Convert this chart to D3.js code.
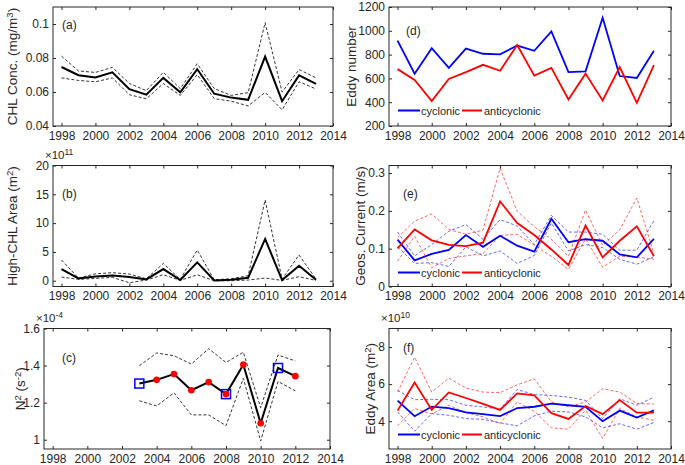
<!DOCTYPE html>
<html>
<head>
<meta charset="utf-8">
<script src="https://cdn.jsdelivr.net/npm/d3@7"></script>
<style>
  body { margin: 0; background: #fff; }
  svg text { font-family: "Liberation Sans", Arial, sans-serif; fill: #262626; }
</style>
</head>
<body>
<script>
var years = [1998, 1999, 2000, 2001, 2002, 2003, 2004, 2005, 2006, 2007, 2008, 2009, 2010, 2011, 2012, 2013];
var xTicks = [1998, 2000, 2002, 2004, 2006, 2008, 2010, 2012, 2014];

// (a) CHL concentration
var chlMean  = [0.0747, 0.0699, 0.0686, 0.0716, 0.0617, 0.0584, 0.0683, 0.0598, 0.0734, 0.0590, 0.0567, 0.0554, 0.0808, 0.0546, 0.0698, 0.0648];
var chlUpper = [0.0811, 0.0724, 0.0715, 0.0745, 0.0650, 0.0608, 0.0716, 0.0620, 0.0766, 0.0620, 0.0580, 0.0596, 0.1008, 0.0600, 0.0732, 0.0683];
var chlLower = [0.0683, 0.0668, 0.0660, 0.0683, 0.0584, 0.0560, 0.0650, 0.0580, 0.0702, 0.0561, 0.0546, 0.0518, 0.0598, 0.0495, 0.0660, 0.0618];

// (b) high-CHL area, x1e11
var hiMean  = [2.03, 0.40, 0.75, 0.93, 0.64, 0.23, 2.03, 0.12, 3.19, 0.06, 0.17, 0.52, 7.25, 0.12, 2.60, 0.17];
var hiUpper = [3.60, 0.46, 1.20, 1.40, 1.16, 0.35, 3.00, 0.23, 5.33, 0.17, 0.35, 0.87, 14.0, 0.29, 4.46, 0.29];
var hiLower = [0.64, 0.23, 0.40, 0.58, -0.35, 0.12, 1.04, 0.06, 1.04, 0.00, 0.00, 0.12, 0.46, 0.06, 0.70, 0.06];

// (c) N2, x1e-4
var n2Years = [2003, 2004, 2005, 2006, 2007, 2008, 2009, 2010, 2011, 2012];
var n2Mean  = [1.303, 1.323, 1.354, 1.267, 1.311, 1.246, 1.405, 1.089, 1.387, 1.343];
var n2Upper = [1.399, 1.468, 1.453, 1.408, 1.491, 1.417, 1.472, 1.173, 1.457, 1.425];
var n2Lower = [1.210, 1.182, 1.253, 1.134, 1.134, 1.076, 1.331, 0.993, 1.314, 1.264];
var n2DotYears = [2004, 2005, 2006, 2007, 2008, 2009, 2010, 2012];
var n2SquareYears = [2003, 2008, 2011];

// (d) eddy number
var numCyc  = [917, 640, 854, 689, 851, 807, 802, 876, 832, 994, 653, 659, 1109, 620, 604, 832];
var numAnti = [678, 587, 409, 596, 653, 714, 664, 881, 623, 689, 423, 640, 414, 695, 395, 711];

// (e) geostrophic current
var curCyc    = [0.124, 0.069, 0.086, 0.097, 0.136, 0.105, 0.134, 0.108, 0.092, 0.179, 0.117, 0.125, 0.121, 0.085, 0.077, 0.126];
var curCycUp  = [0.144, 0.081, 0.111, 0.146, 0.164, 0.125, 0.177, 0.160, 0.111, 0.188, 0.144, 0.144, 0.138, 0.096, 0.096, 0.174];
var curCycLo  = [0.105, 0.061, 0.063, 0.053, 0.105, 0.081, 0.094, 0.061, 0.082, 0.168, 0.094, 0.111, 0.103, 0.072, 0.059, 0.078];
var curAnti   = [0.101, 0.151, 0.122, 0.110, 0.107, 0.116, 0.225, 0.168, 0.136, 0.098, 0.057, 0.161, 0.077, 0.121, 0.159, 0.080];
var curAntiUp = [0.129, 0.173, 0.192, 0.151, 0.138, 0.149, 0.313, 0.199, 0.158, 0.125, 0.080, 0.202, 0.109, 0.150, 0.234, 0.087];
var curAntiLo = [0.067, 0.133, 0.050, 0.074, 0.081, 0.087, 0.135, 0.138, 0.109, 0.080, 0.045, 0.126, 0.051, 0.080, 0.078, 0.072];

// (f) eddy area, x1e10
var arCyc    = [5.11, 4.27, 4.79, 4.71, 4.48, 4.38, 4.27, 4.71, 4.78, 4.95, 4.86, 4.77, 4.00, 4.57, 4.20, 4.58];
var arCycUp  = [5.66, 5.16, 5.18, 5.16, 4.86, 4.77, 4.65, 5.71, 5.43, 5.39, 5.30, 5.12, 4.14, 5.21, 4.86, 5.29];
var arCycLo  = [4.50, 3.46, 4.41, 4.32, 4.14, 4.10, 3.91, 3.75, 4.29, 4.54, 4.50, 4.23, 3.64, 3.86, 3.57, 3.93];
var arAnti   = [4.57, 6.09, 4.61, 5.55, 5.25, 4.93, 4.61, 5.50, 5.40, 4.43, 4.12, 4.82, 4.38, 5.14, 4.46, 4.46];
var arAntiUp = [5.57, 7.45, 5.57, 6.32, 5.79, 5.57, 5.54, 5.96, 6.29, 5.04, 4.77, 5.04, 5.75, 5.57, 4.95, 4.93];
var arAntiLo = [3.75, 4.68, 4.39, 4.86, 4.46, 4.23, 3.88, 5.04, 4.54, 3.64, 3.57, 4.59, 3.07, 4.68, 4.23, 4.05];

var BLUE = '#0000ff', RED = '#ff0000', INK = '#262626';
var TICK_FS = 12, LABEL_FS = 13.5;

var svg = d3.select('body').append('svg')
    .attr('width', 685)
    .attr('height', 465);

function makePanel(p) {
    var x = d3.scaleLinear().domain([1997.5, 2014]).range([p.left, p.right]);
    var y = d3.scaleLinear().domain(p.yDomain).range([p.bottom, p.top]);
    var g = svg.append('g');

    g.append('rect')
        .attr('x', p.left).attr('y', p.top)
        .attr('width', p.right - p.left).attr('height', p.bottom - p.top)
        .attr('fill', 'none').attr('stroke', INK).attr('stroke-width', 1);

    var ax = g.append('g').attr('transform', 'translate(0,' + p.bottom + ')')
        .call(d3.axisBottom(x).tickValues(xTicks).tickFormat(d3.format('d')).tickSize(-3).tickPadding(5));
    var axTop = g.append('g').attr('transform', 'translate(0,' + p.top + ')')
        .call(d3.axisTop(x).tickValues(xTicks).tickFormat('').tickSize(-3));
    var ay = g.append('g').attr('transform', 'translate(' + p.left + ',0)')
        .call(d3.axisLeft(y).tickValues(p.yTicks).tickFormat(p.yFormat).tickSize(-3).tickPadding(4));
    var ayR = g.append('g').attr('transform', 'translate(' + p.right + ',0)')
        .call(d3.axisRight(y).tickValues(p.yTicks).tickFormat('').tickSize(-3));

    [ax, axTop, ay, ayR].forEach(function(a) {
        a.select('.domain').remove();
        a.selectAll('line').attr('stroke', INK);
        a.selectAll('text').attr('font-size', TICK_FS).attr('fill', INK)
            .style('font-family', '"Liberation Sans", Arial, sans-serif');
    });

    // y label
    var yl = g.append('text')
        .attr('transform', 'translate(' + p.ylabelX + ',' + ((p.top + p.bottom) / 2) + ') rotate(-90)')
        .attr('text-anchor', 'middle')
        .attr('font-size', LABEL_FS);
    p.ylabel.forEach(function(part) {
        var t = yl.append('tspan').text(part.t);
        if (part.sup) t.attr('baseline-shift', '38%').attr('font-size', 9.5);
    });

    g.append('text')
        .attr('x', p.letter[0]).attr('y', p.letter[1])
        .attr('font-size', TICK_FS)
        .text(p.name);

    if (p.exponent) {
        var ex = g.append('text')
            .attr('x', p.left - 8).attr('y', p.top - 7)
            .attr('font-size', 11.5);
        ex.append('tspan').text('\u00d710');
        ex.append('tspan').attr('baseline-shift', '40%').attr('font-size', 8.5).text(p.exponent);
    }

    return { g: g, x: x, y: y };
}

function drawLine(P, xs, vals, color, width, dashed, opacity) {
    var line = d3.line()
        .x(function(d, i) { return P.x(xs[i]); })
        .y(function(d) { return P.y(d); });
    P.g.append('path')
        .datum(vals)
        .attr('d', line)
        .attr('fill', 'none')
        .attr('stroke', color)
        .attr('stroke-width', width)
        .attr('stroke-dasharray', dashed ? '3,2' : null)
        .attr('stroke-opacity', opacity || 1)
        .attr('stroke-linejoin', 'miter');
}

function legend(P, yPos) {
    var lg = P.g.append('g');
    lg.append('line').attr('x1', 398).attr('x2', 420).attr('y1', yPos).attr('y2', yPos)
        .attr('stroke', BLUE).attr('stroke-width', 2);
    lg.append('text').attr('x', 421).attr('y', yPos + 4).attr('font-size', 11).text('cyclonic');
    lg.append('line').attr('x1', 462).attr('x2', 482).attr('y1', yPos).attr('y2', yPos)
        .attr('stroke', RED).attr('stroke-width', 2);
    lg.append('text').attr('x', 484).attr('y', yPos + 4).attr('font-size', 11).text('anticyclonic');
}

// (a)
var pa = makePanel({
    left: 53, right: 333, top: 7, bottom: 126,
    yDomain: [0.04, 0.11], yTicks: [0.04, 0.06, 0.08, 0.1],
    yFormat: function(d) { return d === 0.1 ? '0.1' : d3.format('.2f')(d); },
    ylabel: [{ t: 'CHL Conc. (mg/m' }, { t: '3', sup: true }, { t: ')' }], ylabelX: 17,
    name: '(a)', letter: [62, 29]
});
drawLine(pa, years, chlUpper, '#333', 1, true);
drawLine(pa, years, chlLower, '#333', 1, true);
drawLine(pa, years, chlMean, '#000', 2, false);

// (b)
var pb = makePanel({
    left: 53, right: 333, top: 165.5, bottom: 286.5,
    yDomain: [-1, 20], yTicks: [0, 5, 10, 15, 20],
    yFormat: d3.format('d'),
    ylabel: [{ t: 'High-CHL Area (m' }, { t: '2', sup: true }, { t: ')' }], ylabelX: 17,
    name: '(b)', letter: [62, 198], exponent: '11'
});
drawLine(pb, years, hiUpper, '#333', 1, true);
drawLine(pb, years, hiLower, '#333', 1, true);
drawLine(pb, years, hiMean, '#000', 2, false);

// (c)
var pc = makePanel({
    left: 44, right: 330, top: 328.5, bottom: 449,
    yDomain: [0.95, 1.6], yTicks: [1, 1.2, 1.4, 1.6],
    yFormat: function(d) { return d === 1 ? '1' : d3.format('.1f')(d); },
    ylabel: [{ t: 'N' }, { t: '2', sup: true }, { t: ' (s' }, { t: '-2', sup: true }, { t: ')' }], ylabelX: 25,
    name: '(c)', letter: [62, 362], exponent: '-4'
});
drawLine(pc, n2Years, n2Upper, '#333', 1, true);
drawLine(pc, n2Years, n2Lower, '#333', 1, true);
drawLine(pc, n2Years, n2Mean, '#000', 2, false);
pc.g.selectAll('circle.dot')
    .data(n2DotYears)
    .enter().append('circle')
    .attr('cx', function(d) { return pc.x(d); })
    .attr('cy', function(d) { return pc.y(n2Mean[n2Years.indexOf(d)]); })
    .attr('r', 3.3)
    .attr('fill', RED);
pc.g.selectAll('rect.sq')
    .data(n2SquareYears)
    .enter().append('rect')
    .attr('x', function(d) { return pc.x(d) - 4.5; })
    .attr('y', function(d) { return pc.y(n2Mean[n2Years.indexOf(d)]) - 4.5; })
    .attr('width', 9).attr('height', 9)
    .attr('fill', 'none').attr('stroke', BLUE).attr('stroke-width', 1.5);

// (d)
var pd = makePanel({
    left: 389, right: 671, top: 7, bottom: 126,
    yDomain: [200, 1200], yTicks: [200, 400, 600, 800, 1000, 1200],
    yFormat: d3.format('d'),
    ylabel: [{ t: 'Eddy number' }], ylabelX: 356,
    name: '(d)', letter: [406, 35]
});
drawLine(pd, years, numCyc, BLUE, 1.8, false);
drawLine(pd, years, numAnti, RED, 1.8, false);
legend(pd, 110.5);

// (e)
var pe = makePanel({
    left: 389, right: 671, top: 165.5, bottom: 286.5,
    yDomain: [0, 0.32], yTicks: [0, 0.1, 0.2, 0.3],
    yFormat: function(d) { return d === 0 ? '0' : d3.format('.1f')(d); },
    ylabel: [{ t: 'Geos. Current (m/s)' }], ylabelX: 365,
    name: '(e)', letter: [403, 198]
});
drawLine(pe, years, curCycUp, BLUE, 1, true, 0.6);
drawLine(pe, years, curCycLo, BLUE, 1, true, 0.6);
drawLine(pe, years, curAntiUp, RED, 1, true, 0.6);
drawLine(pe, years, curAntiLo, RED, 1, true, 0.6);
drawLine(pe, years, curCyc, BLUE, 1.8, false);
drawLine(pe, years, curAnti, RED, 1.8, false);
legend(pe, 272.5);

// (f)
var pf = makePanel({
    left: 389, right: 671, top: 328.5, bottom: 449,
    yDomain: [2.5, 9], yTicks: [4, 6, 8],
    yFormat: d3.format('d'),
    ylabel: [{ t: 'Eddy Area (m' }, { t: '2', sup: true }, { t: ')' }], ylabelX: 375,
    name: '(f)', letter: [403, 352], exponent: '10'
});
drawLine(pf, years, arCycUp, BLUE, 1, true, 0.6);
drawLine(pf, years, arCycLo, BLUE, 1, true, 0.6);
drawLine(pf, years, arAntiUp, RED, 1, true, 0.6);
drawLine(pf, years, arAntiLo, RED, 1, true, 0.6);
drawLine(pf, years, arCyc, BLUE, 1.8, false);
drawLine(pf, years, arAnti, RED, 1.8, false);
legend(pf, 434.5);
</script>
</body>
</html>
